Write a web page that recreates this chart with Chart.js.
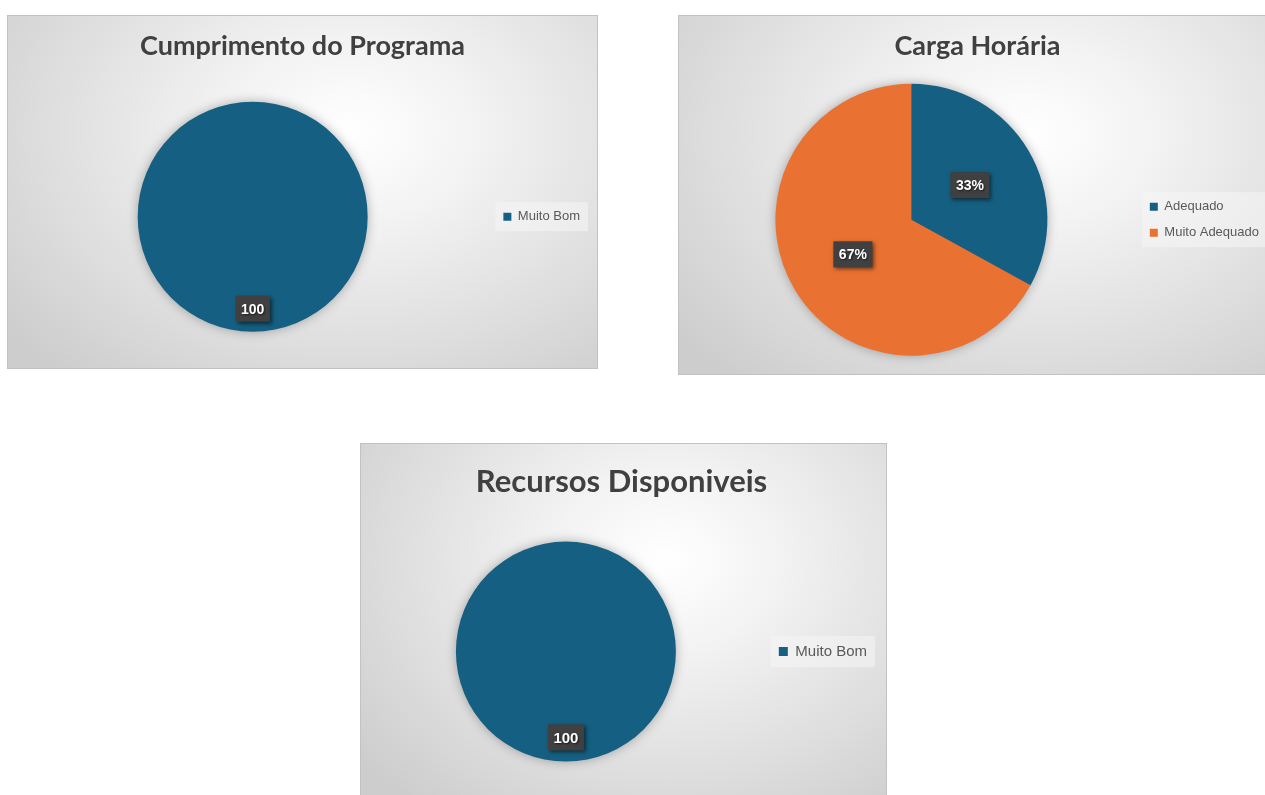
<!DOCTYPE html>
<html>
<head>
<meta charset="utf-8">
<script src="https://cdn.jsdelivr.net/npm/chart.js@4.4.1/dist/chart.umd.min.js"></script>
<style>
    body { margin: 0; background: #fff; width: 1265px; height: 795px; overflow: hidden; position: relative; }
    .box {
        position: absolute;
        box-sizing: border-box;
        border: 1px solid #c2c2c2;
        background: radial-gradient(ellipse 75% 90% at 58% 33%, #ffffff 0%, #f3f3f3 28%, #dcdcdc 72%, #cdcdcd 100%);
    }
</style>
</head>
<body>
<div class="box" style="left:7px; top:15px; width:591px; height:354px;"><canvas id="programaChart"></canvas></div>
<div class="box" style="left:678px; top:15px; width:600px; height:360px;"><canvas id="cargaChart"></canvas></div>
<div class="box" style="left:360px; top:443px; width:527px; height:353px;"><canvas id="recursosChart"></canvas></div>

<script>
// data
const programaLabels = ["Muito Bom"];
const programaValues = [100];

const cargaLabels = ["Adequado", "Muito Adequado"];
const cargaValues = [33, 67];

const recursosLabels = ["Muito Bom"];
const recursosValues = [100];

const BLUE = "#156082";
const ORANGE = "#E97132";
const TITLE_FONT = "Lato, 'Liberation Sans', sans-serif";
const BODY_FONT = "'Liberation Sans', Arial, sans-serif";

// background box behind the legend, soft shadow under the pie, dark value boxes
const pieExtras = {
    id: "pieExtras",
    beforeDraw(chart) {
        const lg = chart.legend;
        if (!lg || !lg.legendHitBoxes || !lg.legendHitBoxes.length) return;
        const hb = lg.legendHitBoxes;
        let l = Infinity, t = Infinity, r = -Infinity, b = -Infinity;
        hb.forEach(h => {
            l = Math.min(l, h.left); t = Math.min(t, h.top);
            r = Math.max(r, h.left + h.width); b = Math.max(b, h.top + h.height);
        });
        const ctx = chart.ctx;
        ctx.save();
        ctx.fillStyle = "rgba(245,245,245,0.55)";
        ctx.fillRect(l - 8, t - 8, r - l + 16, b - t + 16);
        ctx.restore();
    },
    beforeDatasetsDraw(chart) {
        const arc = chart.getDatasetMeta(0).data[0];
        if (!arc) return;
        const p = arc.getProps(["x", "y", "outerRadius"], true);
        const ctx = chart.ctx;
        ctx.save();
        ctx.shadowColor = "rgba(0,0,0,0.35)";
        ctx.shadowBlur = 12;
        ctx.fillStyle = BLUE;
        ctx.beginPath();
        ctx.arc(p.x, p.y, p.outerRadius - 1, 0, Math.PI * 2);
        ctx.fill();
        ctx.restore();
    },
    afterDatasetsDraw(chart, args, opts) {
        const ctx = chart.ctx;
        const meta = chart.getDatasetMeta(0);
        const values = chart.data.datasets[0].data;
        const total = values.reduce((a, v) => a + v, 0);
        meta.data.forEach((arc, i) => {
            const p = arc.getProps(["x", "y", "startAngle", "endAngle", "outerRadius"], true);
            const mid = (p.startAngle + p.endAngle) / 2;
            const cx = p.x + Math.cos(mid) * p.outerRadius * opts.dist;
            const cy = p.y + Math.sin(mid) * p.outerRadius * opts.dist;
            const text = opts.percent ? Math.round(values[i] / total * 100) + "%" : String(values[i]);
            ctx.save();
            ctx.font = "bold " + opts.size + "px " + BODY_FONT;
            const w = ctx.measureText(text).width + 11;
            const h = 26;
            ctx.shadowColor = "rgba(0,0,0,0.55)";
            ctx.shadowBlur = 4;
            ctx.shadowOffsetX = 2;
            ctx.shadowOffsetY = 2;
            ctx.fillStyle = "#404040";
            ctx.fillRect(cx - w / 2, cy - h / 2, w, h);
            ctx.shadowColor = "rgba(0,0,0,0.6)";
            ctx.shadowBlur = 2;
            ctx.shadowOffsetX = 1;
            ctx.shadowOffsetY = 1;
            ctx.fillStyle = "#ffffff";
            ctx.textAlign = "center";
            ctx.textBaseline = "middle";
            ctx.fillText(text, cx, cy + 1);
            ctx.restore();
        });
    }
};

function pieOptions(title, cfg) {
    return {
        responsive: true,
        maintainAspectRatio: false,
        animation: false,
        radius: cfg.radius,
        layout: { padding: cfg.padding },
        plugins: {
            title: {
                display: true,
                text: title,
                color: "#404040",
                font: { family: TITLE_FONT, size: cfg.titleSize, weight: "bold" },
                padding: cfg.titlePad
            },
            legend: {
                position: "right",
                fullSize: false,
                labels: {
                    boxWidth: cfg.box,
                    boxHeight: cfg.box,
                    padding: 13,
                    color: "#595959",
                    font: { family: BODY_FONT, size: cfg.legendSize }
                }
            },
            tooltip: { enabled: false },
            pieExtras: { dist: cfg.dist, percent: cfg.percent, size: cfg.labelSize }
        }
    };
}

// ---- Cumprimento do Programa ----
new Chart(document.getElementById("programaChart"), {
    type: "pie",
    data: {
        labels: programaLabels,
        datasets: [{ data: programaValues, backgroundColor: [BLUE], borderWidth: 0 }]
    },
    options: pieOptions("Cumprimento do Programa", {
        radius: 115, padding: { left: 7, right: 7, top: 0, bottom: 10 },
        titleSize: 27, titlePad: { top: 14, bottom: 13 },
        box: 8, legendSize: 13, dist: 0.8, percent: false, labelSize: 14
    }),
    plugins: [pieExtras]
});

// ---- Carga Horária ----
new Chart(document.getElementById("cargaChart"), {
    type: "pie",
    data: {
        labels: cargaLabels,
        datasets: [{ data: cargaValues, backgroundColor: [BLUE, ORANGE], borderWidth: 0 }]
    },
    options: pieOptions("Carga Horária", {
        radius: 136, padding: { left: 7, right: 8, top: 0, bottom: 10 },
        titleSize: 27, titlePad: { top: 14, bottom: 13 },
        box: 8, legendSize: 13, dist: 0.5, percent: true, labelSize: 14
    }),
    plugins: [pieExtras]
});

// ---- Recursos Disponiveis ----
new Chart(document.getElementById("recursosChart"), {
    type: "pie",
    data: {
        labels: recursosLabels,
        datasets: [{ data: recursosValues, backgroundColor: [BLUE], borderWidth: 0 }]
    },
    options: pieOptions("Recursos Disponiveis", {
        radius: 110, padding: { left: 5, right: 9, top: 0, bottom: 5 },
        titleSize: 31, titlePad: { top: 19, bottom: 13 },
        box: 9, legendSize: 15, dist: 0.78, percent: false, labelSize: 15
    }),
    plugins: [pieExtras]
});
</script>
</body>
</html>
